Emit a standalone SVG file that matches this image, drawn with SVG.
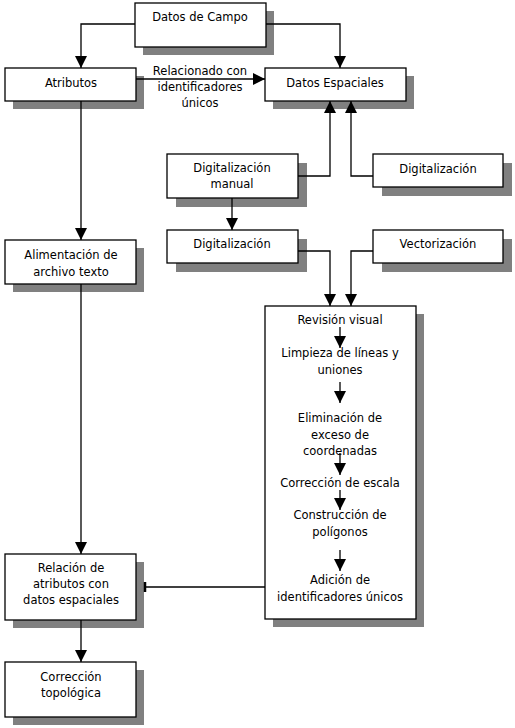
<svg xmlns="http://www.w3.org/2000/svg" width="515" height="728" viewBox="0 0 515 728">
<defs>
<marker id="ah" viewBox="0 0 12 12" refX="12" refY="6" markerWidth="12" markerHeight="12" markerUnits="userSpaceOnUse" orient="auto">
<path d="M0,0 L12,6 L0,12 Z" fill="#000"/>
</marker>
</defs>
<style>
.sh{fill:#808080}
.bx{fill:#fff;stroke:#000;stroke-width:1.3}
text{font-family:"DejaVu Sans","Verdana",sans-serif;font-size:11.5px;fill:#000;text-anchor:middle}
.ln{fill:none;stroke:#000;stroke-width:1.3}
</style>
<rect width="515" height="728" fill="#fff"/>
<g id="datos-campo"><rect class="sh" x="143" y="11" width="131" height="44"/><rect class="bx" x="135" y="3" width="131" height="44"/><text x="200" y="21">Datos de Campo</text></g>
<g id="atributos"><rect class="sh" x="13" y="76" width="131" height="33"/><rect class="bx" x="5" y="68" width="131" height="33"/><text x="71" y="87">Atributos</text></g>
<text x="200" y="75">Relacionado con</text>
<text x="200" y="91">identificadores</text>
<text x="200" y="107">únicos</text>
<g id="datos-espaciales"><rect class="sh" x="273" y="76" width="141" height="33"/><rect class="bx" x="265" y="68" width="141" height="33"/><text x="335" y="87">Datos Espaciales</text></g>
<g id="dig-manual"><rect class="sh" x="176" y="163" width="131" height="44"/><rect class="bx" x="167" y="154" width="131" height="44"/><text x="232" y="172">Digitalización</text><text x="232" y="188">manual</text></g>
<g id="dig-right"><rect class="sh" x="382" y="163" width="130" height="33"/><rect class="bx" x="373" y="154" width="130" height="33"/><text x="438" y="173">Digitalización</text></g>
<g id="dig-lower"><rect class="sh" x="176" y="239" width="131" height="33"/><rect class="bx" x="167" y="230" width="131" height="33"/><text x="232" y="248">Digitalización</text></g>
<g id="vectorizacion"><rect class="sh" x="382" y="239" width="130" height="33"/><rect class="bx" x="373" y="230" width="130" height="33"/><text x="438" y="248">Vectorización</text></g>
<g id="alimentacion"><rect class="sh" x="13" y="248" width="131" height="44"/><rect class="bx" x="5" y="240" width="131" height="44"/><text x="71" y="259">Alimentación de</text><text x="71" y="276">archivo texto</text></g>
<g id="proceso">
<rect class="sh" x="273" y="314" width="151" height="313"/><rect class="bx" x="265" y="306" width="151" height="313"/>
<text x="340" y="324">Revisión visual</text>
<text x="340" y="357">Limpieza de líneas y</text>
<text x="340" y="374">uniones</text>
<text x="340" y="422">Eliminación de</text>
<text x="340" y="439">exceso de</text>
<text x="340" y="455">coordenadas</text>
<text x="340" y="487">Corrección de escala</text>
<text x="340" y="519">Construcción de</text>
<text x="340" y="536">polígonos</text>
<text x="340" y="584">Adición de</text>
<text x="340" y="601">identificadores únicos</text>
<path class="ln" d="M340,327 V348" marker-end="url(#ah)"/>
<path class="ln" d="M340,382 V403" marker-end="url(#ah)"/>
<path class="ln" d="M340,453 V475" marker-end="url(#ah)"/>
<path class="ln" d="M340,490 V510" marker-end="url(#ah)"/>
<path class="ln" d="M340,550 V571" marker-end="url(#ah)"/>
</g>
<g id="relacion"><rect class="sh" x="13" y="562" width="131" height="66"/><rect class="bx" x="5" y="554" width="131" height="66"/><text x="71" y="572">Relación de</text><text x="71" y="588">atributos con</text><text x="71" y="604">datos espaciales</text></g>
<g id="correccion-topo"><rect class="sh" x="13" y="670" width="131" height="55"/><rect class="bx" x="5" y="662" width="131" height="55"/><text x="71" y="681">Corrección</text><text x="71" y="697">topológica</text></g>
<g id="conns">
<path class="ln" d="M135,24 H81 V68" marker-end="url(#ah)"/>
<path class="ln" d="M266,24 H340 V68" marker-end="url(#ah)"/>
<path class="ln" d="M136,79 H265" marker-end="url(#ah)"/>
<path class="ln" d="M298,176 H330 V101" marker-end="url(#ah)"/>
<path class="ln" d="M373,176 H351 V101" marker-end="url(#ah)"/>
<path class="ln" d="M232,198 V230" marker-end="url(#ah)"/>
<path class="ln" d="M298,251 H330 V306" marker-end="url(#ah)"/>
<path class="ln" d="M373,251 H351 V306" marker-end="url(#ah)"/>
<path class="ln" d="M81,101 V240" marker-end="url(#ah)"/>
<path class="ln" d="M81,284 V554" marker-end="url(#ah)"/>
<path class="ln" d="M81,620 V662" marker-end="url(#ah)"/>
<path class="ln" d="M265,587 H145"/>
<path d="M145,582 V592" stroke="#000" stroke-width="2.5"/>
</g>
</svg>
